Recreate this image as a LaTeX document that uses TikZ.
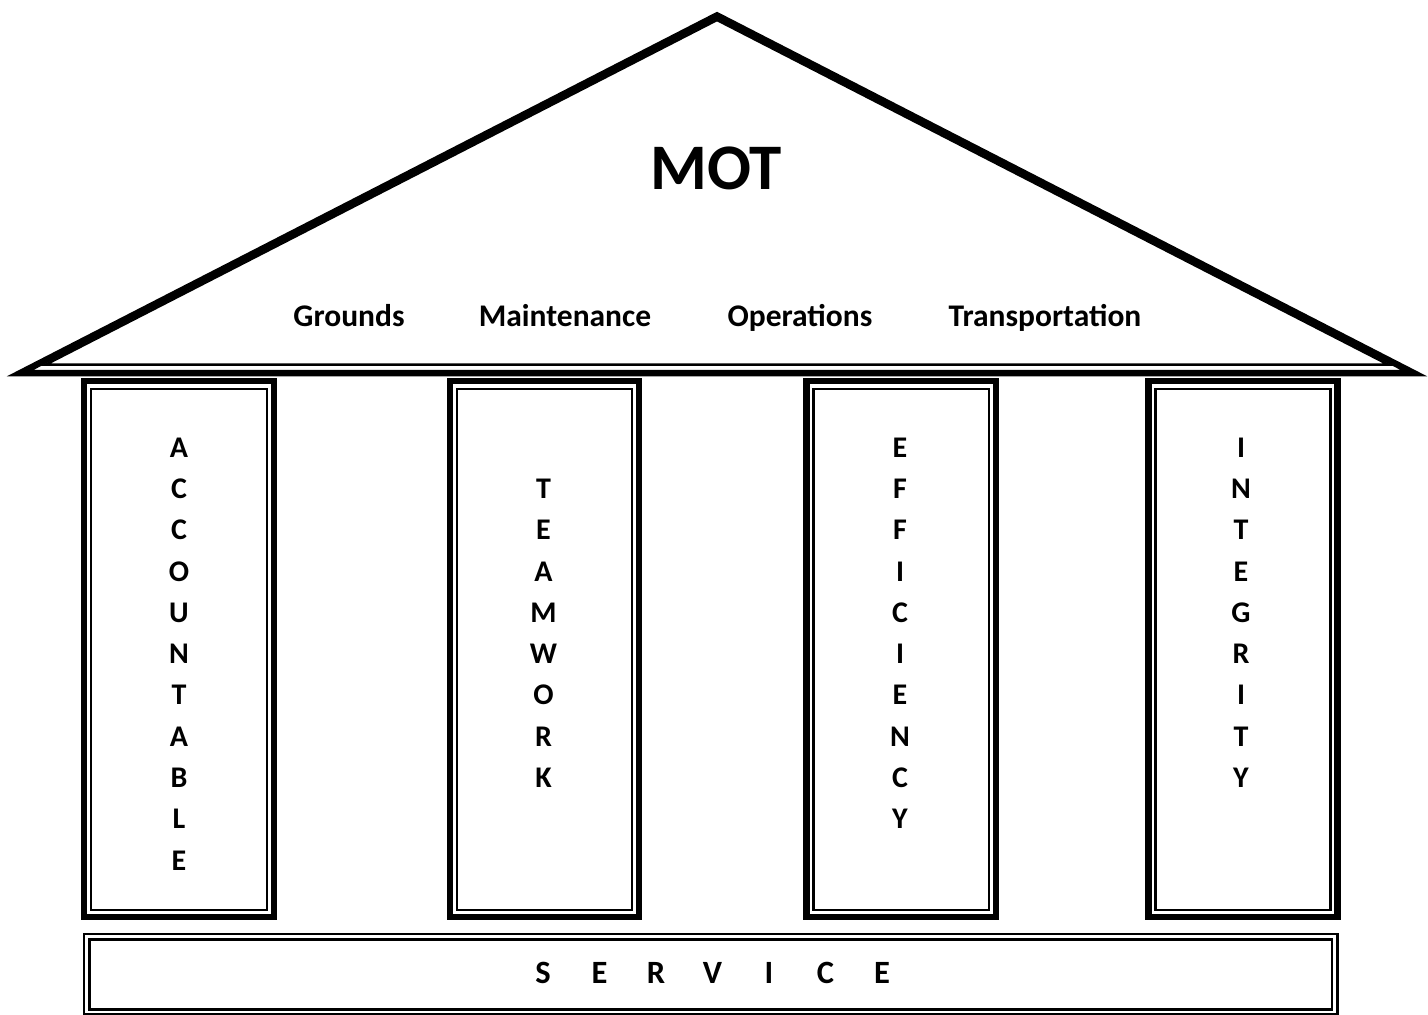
\documentclass[tikz,border=0pt]{standalone}
\usepackage{fontspec}
\setmainfont{Carlito}
\begin{document}
\begin{tikzpicture}[x=1pt,y=-1pt,
  thickline/.style={line width=6.5pt, line join=miter, miter limit=10},
  thinline/.style={line width=2.5pt, line join=miter, miter limit=10},
  svcline/.style={line width=2.5pt},
  letters/.style={font=\fontsize{30}{41.3}\selectfont\bfseries, align=center, anchor=north, inner sep=0pt},
  dept/.style={font=\fontsize{31.5}{38}\selectfont\bfseries, anchor=base, inner sep=0pt},
  title/.style={font=\fontsize{65}{70}\selectfont\bfseries, anchor=base, inner sep=0pt},
  svc/.style={font=\fontsize{32.5}{38}\selectfont\bfseries, anchor=base, inner sep=0pt}]
\useasboundingbox (0,0) rectangle (1428,1015);
% roof
\draw[thickline] (20.4,373) -- (717,15.4) -- (1413.6,373) -- cycle;
\draw[thinline] (45.5,364.7) -- (717,20) -- (1388.5,364.7) -- cycle;
% pillars
\foreach \xa/\xb in {84/274, 450/639, 806.5/996, 1148.5/1337.5}{
  \draw[thickline] (\xa,381) rectangle (\xb,917);
  \draw[thinline] (\xa+7,389) rectangle (\xb-7,910);
}
% service base
\draw[svcline] (84,934) rectangle (1337.5,1014.5);
\draw[svcline] (89.5,939.5) rectangle (1332,1009.5);
% texts
\node[title] (mot) at (716,189) {MOT};
\node[dept] (grounds) at (349,326) {Grounds};
\node[dept] (maint) at (565,326) {Maintenance};
\node[dept] (ops) at (800,326) {Operations};
\node[dept] (trans) at (1045,326) {Transportation};
\node[letters] (acc) at (179,437.5) {A\\C\\C\\O\\U\\N\\T\\A\\B\\L\\E};
\node[letters] (team) at (543.5,478.8) {T\\E\\A\\M\\W\\O\\R\\K};
\node[letters] (eff) at (900,437.5) {E\\F\\F\\I\\C\\I\\E\\N\\C\\Y};
\node[letters] (integ) at (1241,437.5) {I\\N\\T\\E\\G\\R\\I\\T\\Y};
\node[svc] (service) at (712.5,983.5) {\makebox[56.5pt]{S}\makebox[56.5pt]{E}\makebox[56.5pt]{R}\makebox[56.5pt]{V}\makebox[56.5pt]{I}\makebox[56.5pt]{C}\makebox[56.5pt]{E}};
\end{tikzpicture}
\end{document}
